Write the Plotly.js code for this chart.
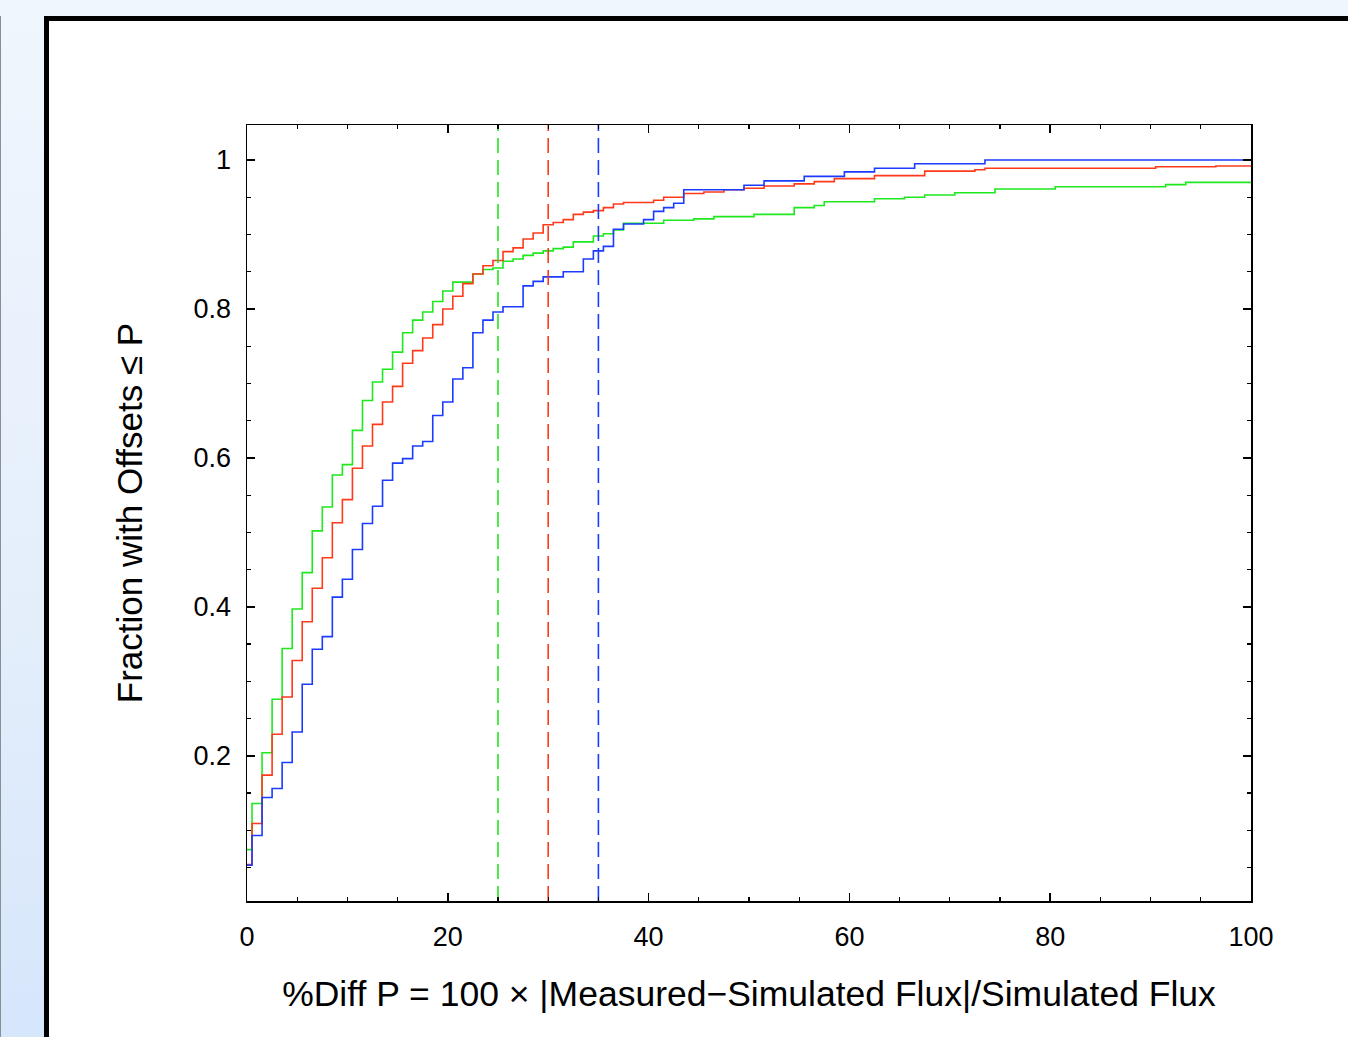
<!DOCTYPE html>
<html>
<head>
<meta charset="utf-8">
<script src="https://cdn.plot.ly/plotly-3.0.1.min.js"></script>
<style>
  html, body { margin:0; padding:0; width:1348px; height:1037px; overflow:hidden; }
  body { background: linear-gradient(to bottom, #eff6fd 0%, #e4eefb 60%, #d6e6fb 100%); position:relative; }
  #edge { position:absolute; left:0; top:16px; width:1px; height:1100px; background:#8a8f96; }
  #frame { position:absolute; left:44px; top:16px; width:1400px; height:1100px; background:#ffffff; border:5px solid #000; box-sizing:border-box; }
  #chart { position:absolute; left:0; top:0; width:1348px; height:1037px; }
</style>
</head>
<body>
<div id="edge"></div>
<div id="frame"></div>
<div id="chart"></div>
<script>
// percent difference P (integer bins, 0..100)
const pctDiff = Array.from({length: 101}, (_, i) => i);

// cumulative fraction with offsets <= P
const greenFrac = [
  0.074, 0.136, 0.204, 0.276, 0.344, 0.397, 0.446, 0.502, 0.534, 0.577,
  0.591, 0.637, 0.677, 0.702, 0.719, 0.742, 0.768, 0.785, 0.796, 0.810,
  0.824, 0.836, 0.836, 0.847, 0.853, 0.855, 0.864, 0.867, 0.872, 0.875,
  0.878, 0.881, 0.883, 0.890, 0.890, 0.898, 0.901, 0.906, 0.915, 0.915,
  0.915, 0.915, 0.919, 0.919, 0.919, 0.921, 0.921, 0.924, 0.924, 0.924,
  0.924, 0.927, 0.927, 0.927, 0.927, 0.936, 0.936, 0.939, 0.944, 0.944,
  0.944, 0.944, 0.944, 0.948, 0.948, 0.948, 0.950, 0.950, 0.953, 0.953,
  0.953, 0.956, 0.956, 0.956, 0.956, 0.961, 0.961, 0.961, 0.961, 0.961,
  0.961, 0.964, 0.964, 0.964, 0.964, 0.964, 0.964, 0.964, 0.964, 0.964,
  0.964, 0.964, 0.967, 0.967, 0.970, 0.970, 0.970, 0.970, 0.970, 0.970,
  0.970
];
const redFrac = [
  0.054, 0.109, 0.174, 0.229, 0.279, 0.328, 0.380, 0.425, 0.466, 0.513,
  0.544, 0.586, 0.616, 0.645, 0.675, 0.696, 0.727, 0.744, 0.761, 0.779,
  0.800, 0.817, 0.834, 0.847, 0.858, 0.865, 0.877, 0.882, 0.894, 0.902,
  0.913, 0.916, 0.920, 0.927, 0.930, 0.932, 0.936, 0.941, 0.943, 0.943,
  0.943, 0.946, 0.950, 0.950, 0.955, 0.955, 0.957, 0.957, 0.960, 0.960,
  0.962, 0.962, 0.965, 0.965, 0.965, 0.968, 0.968, 0.971, 0.971, 0.975,
  0.975, 0.975, 0.975, 0.979, 0.979, 0.979, 0.979, 0.979, 0.985, 0.985,
  0.985, 0.985, 0.985, 0.987, 0.989, 0.989, 0.989, 0.989, 0.989, 0.989,
  0.989, 0.989, 0.989, 0.989, 0.989, 0.989, 0.989, 0.989, 0.989, 0.989,
  0.989, 0.991, 0.991, 0.991, 0.991, 0.991, 0.991, 0.992, 0.992, 0.992,
  0.992
];
const blueFrac = [
  0.053, 0.093, 0.144, 0.156, 0.191, 0.232, 0.296, 0.343, 0.360, 0.413,
  0.437, 0.477, 0.512, 0.535, 0.570, 0.593, 0.599, 0.616, 0.622, 0.657,
  0.675, 0.706, 0.721, 0.768, 0.785, 0.796, 0.803, 0.803, 0.831, 0.837,
  0.843, 0.843, 0.850, 0.850, 0.867, 0.878, 0.884, 0.907, 0.914, 0.914,
  0.920, 0.931, 0.936, 0.942, 0.960, 0.960, 0.960, 0.960, 0.960, 0.960,
  0.966, 0.966, 0.972, 0.972, 0.972, 0.972, 0.978, 0.978, 0.978, 0.978,
  0.984, 0.984, 0.984, 0.989, 0.989, 0.989, 0.989, 0.995, 0.995, 0.995,
  0.995, 0.995, 0.995, 0.995, 1.000, 1.000, 1.000, 1.000, 1.000, 1.000,
  1.000, 1.000, 1.000, 1.000, 1.000, 1.000, 1.000, 1.000, 1.000, 1.000,
  1.000, 1.000, 1.000, 1.000, 1.000, 1.000, 1.000, 1.000, 1.000, 1.000,
  1.000
];

// threshold markers (percent) for each series
const thresholds = [25, 30, 35];
const seriesColors = ['#1ee81e', '#ff3a1a', '#1a3cff'];
const seriesData = [greenFrac, redFrac, blueFrac];

const traces = seriesData.map((ys, k) => ({
  x: pctDiff, y: ys, type: 'scatter', mode: 'lines',
  line: { shape: 'hvh', color: seriesColors[k], width: 1.6 },
  hoverinfo: 'skip'
}));

thresholds.forEach((t, k) => {
  traces.push({
    x: [t, t], y: [0.005, 1.047], type: 'scatter', mode: 'lines',
    line: { color: seriesColors[k], width: 1.6, dash: '15px,7px' },
    hoverinfo: 'skip'
  });
});

const font = { family: 'Liberation Sans, Arial, Helvetica, sans-serif', color: '#000' };

const layout = {
  width: 1348, height: 1037,
  margin: { l: 247, r: 97, t: 125, b: 136 },
  paper_bgcolor: 'rgba(0,0,0,0)',
  plot_bgcolor: 'rgba(0,0,0,0)',
  showlegend: false,
  font: font,
  xaxis: {
    range: [0, 100], dtick: 20, tick0: 0,
    showgrid: false, zeroline: false,
    showline: true, linecolor: '#000', linewidth: 1.5, mirror: 'allticks',
    ticks: 'inside', ticklen: 8, tickwidth: 1.5, tickcolor: '#000',
    minor: { dtick: 5, ticks: 'inside', ticklen: 4, tickwidth: 1.2, tickcolor: '#000', showgrid: false },
    tickfont: { size: 27, family: font.family, color: '#000' },
    ticklabelstandoff: 11,
    title: { text: '%Diff P = 100 × |Measured−Simulated Flux|/Simulated Flux', font: { size: 35.5, family: font.family, color: '#000' }, standoff: 30 }
  },
  yaxis: {
    range: [0.005, 1.047], tickvals: [0.2, 0.4, 0.6, 0.8, 1], ticktext: ['0.2', '0.4', '0.6', '0.8', '1'],
    showgrid: false, zeroline: false,
    showline: true, linecolor: '#000', linewidth: 1.5, mirror: 'allticks',
    ticks: 'inside', ticklen: 8, tickwidth: 1.5, tickcolor: '#000',
    minor: { tickvals: [0.05,0.1,0.15,0.25,0.3,0.35,0.45,0.5,0.55,0.65,0.7,0.75,0.85,0.9,0.95,1.05], ticks: 'inside', ticklen: 4, tickwidth: 1.2, tickcolor: '#000', showgrid: false },
    tickfont: { size: 27, family: font.family, color: '#000' },
    ticklabelstandoff: 9,
    title: { text: 'Fraction with Offsets ≤ P', font: { size: 35, family: font.family, color: '#000' }, standoff: 40 }
  }
};

Plotly.newPlot('chart', traces, layout, { displayModeBar: false, staticPlot: true });
</script>
</body>
</html>
